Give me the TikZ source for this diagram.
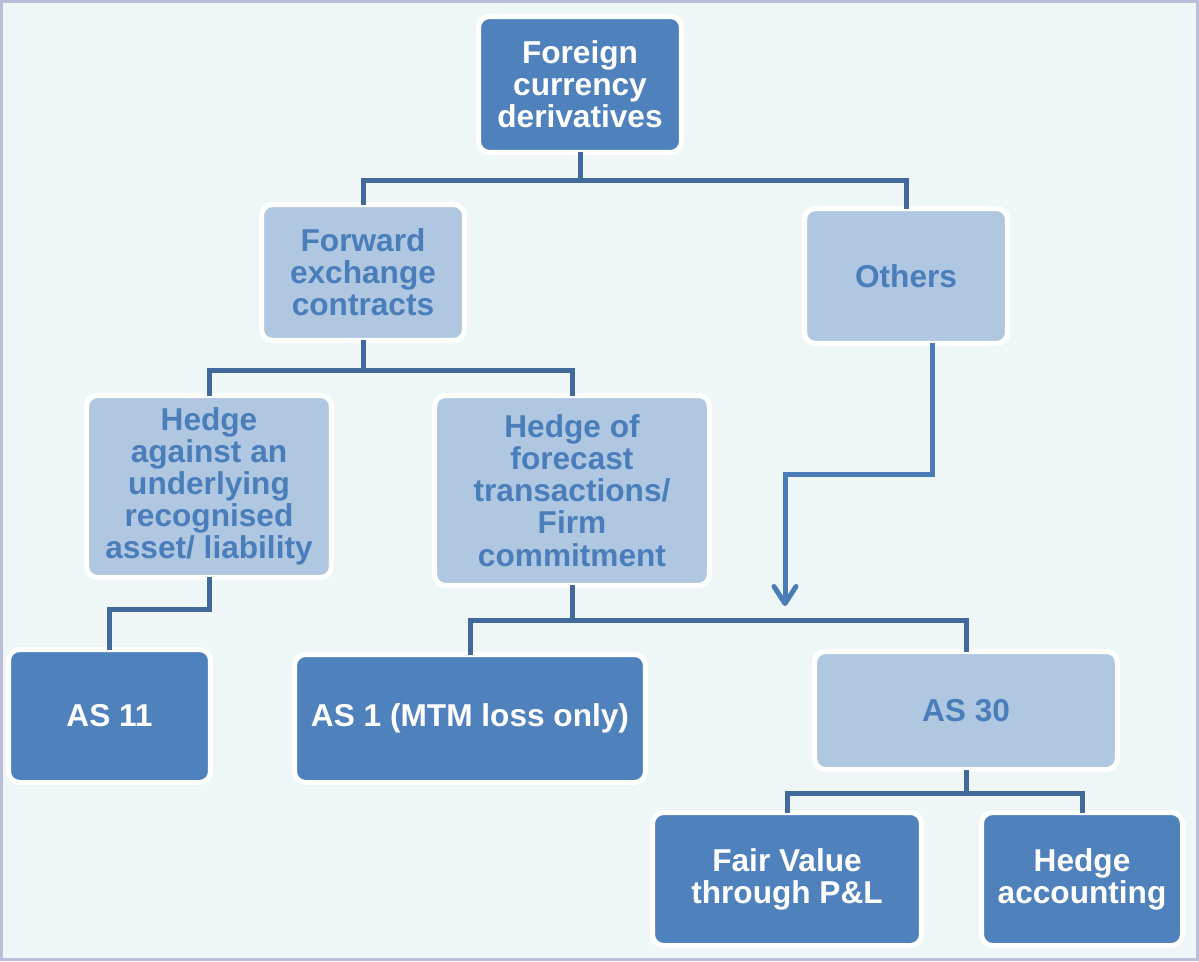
\documentclass[tikz,border=0pt]{standalone}
\usepackage{fontspec}
\setmainfont{Liberation Sans}
\usetikzlibrary{arrows.meta}
\definecolor{bgfill}{HTML}{EEF6F8}
\definecolor{frameline}{HTML}{BCBDD8}
\definecolor{darkfill}{HTML}{4F81BD}
\definecolor{lightfill}{HTML}{AFC7E0}
\definecolor{lighttext}{HTML}{4A7EBB}
\definecolor{connline}{HTML}{41699C}
\definecolor{arrowline}{HTML}{4A7CB8}
\tikzset{
  boxbase/.style={rounded corners=0.22cm, draw=white, line width=0.1cm,
    inner sep=0pt, outer sep=0pt, align=center,
    font=\fontsize{18}{18.3}\selectfont\bfseries},
  darkbox/.style={boxbase, fill=darkfill, text=white},
  lightbox/.style={boxbase, fill=lightfill, text=lighttext},
  conn/.style={draw=connline, line width=0.1cm},
  arrowconn/.style={draw=arrowline, line width=0.1cm,
    -{Straight Barb[length=0.34cm, width=0.44cm, round]}},
}
\begin{document}
\begin{tikzpicture}[x=0.02cm, y=-0.02cm]
  % page frame and background
  \useasboundingbox (0,0) rectangle (1199,961);
  \draw[fill=bgfill, draw=frameline, line width=0.06cm] (1.5,1.5) rectangle (1197.5,959.5);

  % boxes
  \node[darkbox, minimum width=4.06cm, minimum height=2.72cm] (top) at (580,84.5)
    {Foreign\\currency\\derivatives};
  \node[lightbox, minimum width=4.06cm, minimum height=2.72cm] (forward) at (363,272.5)
    {Forward\\exchange\\contracts};
  \node[lightbox, minimum width=4.06cm, minimum height=2.70cm] (others) at (906,276)
    {Others};
  \node[lightbox, minimum width=4.90cm, minimum height=3.64cm] (hedgeA) at (209,486.5)
    {Hedge\\against an\\underlying\\recognised\\asset/ liability};
  \node[lightbox, minimum width=5.50cm, minimum height=3.80cm] (hedgeF) at (572,490.5)
    {Hedge of\\forecast\\transactions/\\Firm\\commitment};
  \node[darkbox, minimum width=4.04cm, minimum height=2.66cm] (as11) at (109.5,716)
    {AS 11};
  \node[darkbox, minimum width=7.02cm, minimum height=2.56cm] (as1) at (470,718.5)
    {AS 1 (MTM loss only)};
  \node[lightbox, minimum width=6.06cm, minimum height=2.36cm] (as30) at (966,710.5)
    {AS 30};
  \node[darkbox, minimum width=5.38cm, minimum height=2.66cm] (fv) at (787,879)
    {Fair Value\\through P\&L};
  \node[darkbox, minimum width=4.02cm, minimum height=2.66cm] (ha) at (1082,879)
    {Hedge\\accounting};

  % tree connectors
  \coordinate (j1) at (top.south |- 0,180);
  \draw[conn] (top.south) -- (j1) -| (forward.north);
  \draw[conn] (j1) -| (others.north);
  \coordinate (j2) at (forward.south |- 0,370);
  \draw[conn] (forward.south) -- (j2) -| (hedgeA.north);
  \draw[conn] (j2) -| (hedgeF.north);
  \coordinate (j3) at (hedgeA.south |- 0,609);
  \draw[conn] (hedgeA.south) -- (j3) -| (as11.north);
  \coordinate (j4) at (hedgeF.south |- 0,620);
  \draw[conn] (hedgeF.south) -- (j4) -| (as1.north);
  \draw[conn] (j4) -| (as30.north);
  \coordinate (j5) at (as30.south |- 0,793);
  \draw[conn] (as30.south) -- (j5) -| (fv.north);
  \draw[conn] (j5) -| (ha.north);

  % arrow from Others down to the AS 30 branch
  \coordinate (ostart) at ([xshift=0.52cm]others.south);
  \coordinate (arrowend) at (785,606);
  \draw[arrowconn] (ostart) |- (785,474) -- (arrowend);
\end{tikzpicture}
\end{document}
